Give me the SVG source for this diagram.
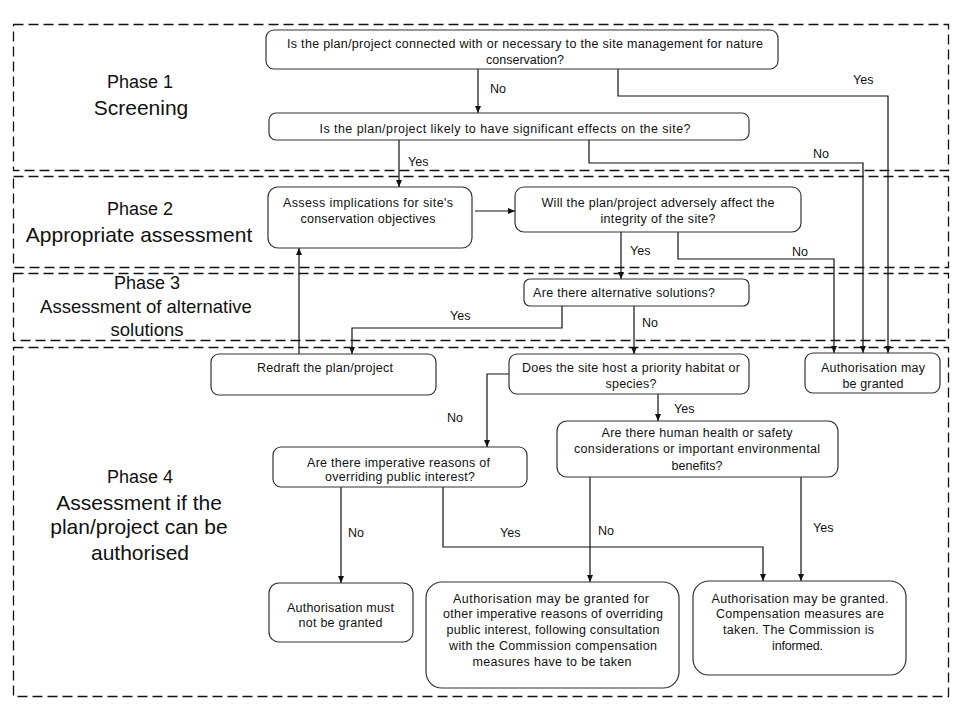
<svg xmlns="http://www.w3.org/2000/svg" width="960" height="720" viewBox="0 0 960 720">
<style>
.phase{fill:none;stroke:#111;stroke-width:1.3;stroke-dasharray:10 5}
.box{fill:#fff;stroke:#333;stroke-width:1.2}
.t{font-family:"Liberation Sans",Arial,sans-serif;font-size:12.5px;fill:#111;text-anchor:middle}
.l{font-family:"Liberation Sans",Arial,sans-serif;font-size:12.5px;fill:#111}
.ph{font-family:"Liberation Sans",Arial,sans-serif;font-size:18px;fill:#111;text-anchor:middle}
.ps{font-family:"Liberation Sans",Arial,sans-serif;font-size:21px;fill:#111;text-anchor:middle}
.c{fill:none;stroke:#111;stroke-width:1.2;marker-end:url(#arr)}
</style>
<defs>
<marker id="arr" markerUnits="userSpaceOnUse" markerWidth="7" markerHeight="6" refX="7" refY="3" orient="auto">
<path d="M0,0 L7,3 L0,6 z" fill="#111"/>
</marker>
</defs>
<rect width="960" height="720" fill="#fff"/>
<g id="phases">
<rect class="phase" x="13.5" y="24.5" width="935" height="146"/>
<rect class="phase" x="13.5" y="176.5" width="935" height="91"/>
<rect class="phase" x="13.5" y="273.5" width="935" height="67"/>
<rect class="phase" x="13.5" y="347.5" width="935" height="349"/>
<text class="ph" x="140" y="88">Phase 1</text>
<text class="ps" x="141" y="115">Screening</text>
<text class="ph" x="140" y="215">Phase 2</text>
<text class="ps" x="139" y="242">Appropriate assessment</text>
<text class="ph" x="147" y="289">Phase 3</text>
<text class="ph" x="146" y="313" style="font-size:18.5px">Assessment of alternative</text>
<text class="ph" x="147" y="336" style="font-size:18.5px">solutions</text>
<text class="ph" x="140" y="483">Phase 4</text>
<text class="ps" x="139" y="510">Assessment if the</text>
<text class="ps" x="139" y="534">plan/project can be</text>
<text class="ps" x="140" y="560">authorised</text>
</g>
<g id="connectors">
<path class="c" d="M478,69 V113"/>
<path class="c" d="M618,69 V96 H888 V353"/>
<path class="c" d="M589,140 V163 H863 V353"/>
<path class="c" d="M399,140 V187"/>
<path class="c" d="M475,211 H515"/>
<path class="c" d="M621,232 V279"/>
<path class="c" d="M678,232 V259 H834 V353"/>
<path class="c" d="M562,306 V328 H352 V354"/>
<path class="c" d="M634,306 V354"/>
<path class="c" d="M299,354 V248"/>
<path class="c" d="M509,374 H487 V447"/>
<path class="c" d="M658,394 V421"/>
<path class="c" d="M341,487 V583"/>
<path class="c" d="M443,487 V547 H763 V581"/>
<path class="c" d="M590,477 V582"/>
<path class="c" d="M801,477 V581"/>
<text class="l" x="490" y="93">No</text>
<text class="l" x="853" y="84">Yes</text>
<text class="l" x="813" y="158">No</text>
<text class="l" x="408" y="166">Yes</text>
<text class="l" x="630" y="255">Yes</text>
<text class="l" x="792" y="256">No</text>
<text class="l" x="450" y="320">Yes</text>
<text class="l" x="642" y="327">No</text>
<text class="l" x="447" y="422">No</text>
<text class="l" x="674" y="413">Yes</text>
<text class="l" x="348" y="537">No</text>
<text class="l" x="500" y="537">Yes</text>
<text class="l" x="598" y="535">No</text>
<text class="l" x="813" y="532">Yes</text>
</g>
<g id="n1">
<rect class="box" x="266" y="30" width="512" height="39" rx="8"/>
<text class="t" x="525" y="47.5" textLength="476" lengthAdjust="spacing">Is the plan/project connected with or necessary to the site management for nature</text>
<text class="t" x="525" y="63.5" textLength="78" lengthAdjust="spacing">conservation?</text>
</g>
<g id="n2">
<rect class="box" x="269" y="113" width="480" height="27" rx="7"/>
<text class="t" x="505" y="133" textLength="371" lengthAdjust="spacing">Is the plan/project likely to have significant effects on the site?</text>
</g>
<g id="n3">
<rect class="box" x="268" y="187" width="204" height="61" rx="10"/>
<text class="t" x="368" y="207" textLength="170" lengthAdjust="spacing">Assess implications for site's</text>
<text class="t" x="368" y="223" textLength="135" lengthAdjust="spacing">conservation objectives</text>
</g>
<g id="n4">
<rect class="box" x="515" y="187" width="286" height="45" rx="9"/>
<text class="t" x="658" y="207" textLength="233" lengthAdjust="spacing">Will the plan/project adversely affect the</text>
<text class="t" x="658" y="223" textLength="115" lengthAdjust="spacing">integrity of the site?</text>
</g>
<g id="n5">
<rect class="box" x="524" y="279" width="225" height="27" rx="6"/>
<text class="t" x="624" y="297" textLength="182" lengthAdjust="spacing">Are there alternative solutions?</text>
</g>
<g id="n6">
<rect class="box" x="211" y="354" width="225" height="41" rx="8"/>
<text class="t" x="325" y="372" textLength="136" lengthAdjust="spacing">Redraft the plan/project</text>
</g>
<g id="n7">
<rect class="box" x="509" y="354" width="240" height="40" rx="8"/>
<text class="t" x="631" y="372" textLength="218" lengthAdjust="spacing">Does the site host a priority habitat or</text>
<text class="t" x="631" y="388" textLength="51" lengthAdjust="spacing">species?</text>
</g>
<g id="n8">
<rect class="box" x="805" y="353" width="135" height="40" rx="8"/>
<text class="t" x="873" y="372" textLength="104" lengthAdjust="spacing">Authorisation may</text>
<text class="t" x="873" y="388" textLength="61" lengthAdjust="spacing">be granted</text>
</g>
<g id="n9">
<rect class="box" x="557" y="421" width="281" height="56" rx="10"/>
<text class="t" x="697" y="437" textLength="191" lengthAdjust="spacing">Are there human health or safety</text>
<text class="t" x="697" y="453" textLength="246" lengthAdjust="spacing">considerations or important environmental</text>
<text class="t" x="697" y="470" textLength="51" lengthAdjust="spacing">benefits?</text>
</g>
<g id="n10">
<rect class="box" x="273" y="447" width="254" height="40" rx="8"/>
<text class="t" x="398.5" y="467" textLength="183" lengthAdjust="spacing">Are there imperative reasons of</text>
<text class="t" x="400" y="481" textLength="150" lengthAdjust="spacing">overriding public interest?</text>
</g>
<g id="n11">
<rect class="box" x="269" y="583" width="144" height="59" rx="10"/>
<text class="t" x="340.5" y="612" textLength="107" lengthAdjust="spacing">Authorisation must</text>
<text class="t" x="340.5" y="627" textLength="84" lengthAdjust="spacing">not be granted</text>
</g>
<g id="n12">
<rect class="box" x="426" y="582" width="253" height="106" rx="16"/>
<text class="t" x="551" y="603" textLength="196" lengthAdjust="spacing">Authorisation may be granted for</text>
<text class="t" x="553" y="618" textLength="220" lengthAdjust="spacing">other imperative reasons of overriding</text>
<text class="t" x="553" y="634" textLength="213" lengthAdjust="spacing">public interest, following consultation</text>
<text class="t" x="553" y="650" textLength="208" lengthAdjust="spacing">with the Commission compensation</text>
<text class="t" x="552" y="666" textLength="159" lengthAdjust="spacing">measures have to be taken</text>
</g>
<g id="n13">
<rect class="box" x="693" y="581" width="213" height="94" rx="16"/>
<text class="t" x="800" y="603" textLength="177" lengthAdjust="spacing">Authorisation may be granted.</text>
<text class="t" x="800" y="618" textLength="168" lengthAdjust="spacing">Compensation measures are</text>
<text class="t" x="798.5" y="634" textLength="151" lengthAdjust="spacing">taken. The Commission is</text>
<text class="t" x="797.5" y="650" textLength="51" lengthAdjust="spacing">informed.</text>
</g>
</svg>
